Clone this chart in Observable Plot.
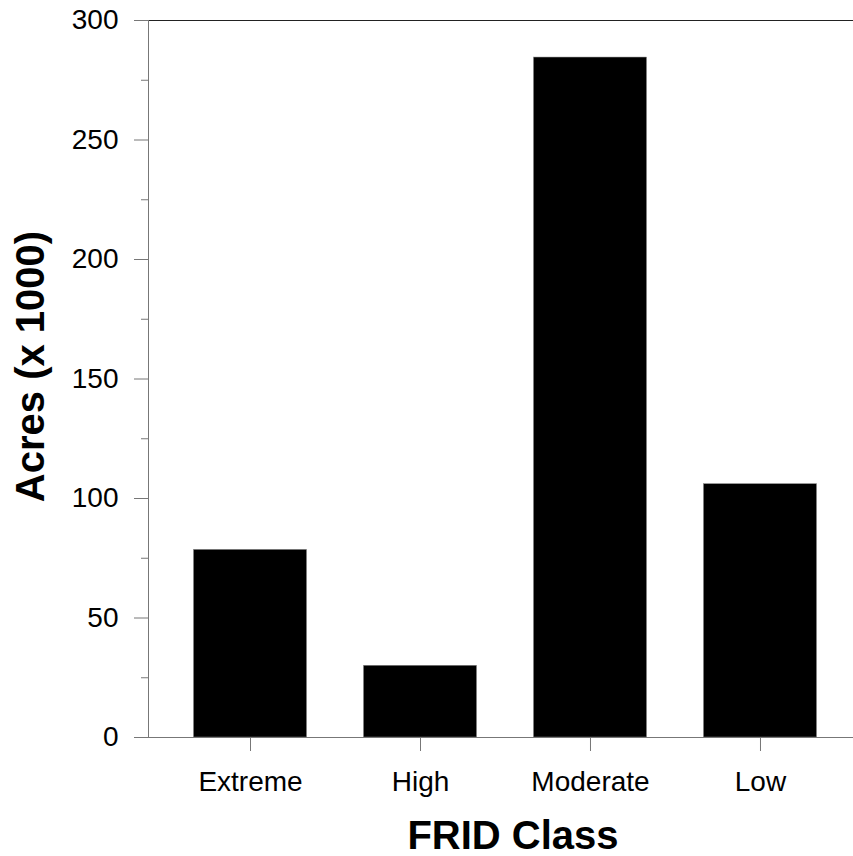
<!DOCTYPE html>
<html>
<head>
<meta charset="utf-8">
<script src="https://cdn.jsdelivr.net/npm/d3@7"></script>
<script src="https://cdn.jsdelivr.net/npm/@observablehq/plot@0.6"></script>
<style>
  html, body { margin: 0; padding: 0; background: #fff; }
  #chart svg { display: block; }
</style>
</head>
<body>
<div id="chart"></div>
<script>
const classes = ["Extreme", "High", "Moderate", "Low"];
const acres = [78.5, 30, 284.5, 106];
const yMajorTicks = [0, 50, 100, 150, 200, 250, 300];
const yMinorTicks = [25, 75, 125, 175, 225, 275];
const xLabel = "FRID Class";
const yLabel = "Acres (x 1000)";

const data = classes.map((c, i) => ({cls: c, acres: acres[i]}));

const font = "'Liberation Sans', Arial, Helvetica, sans-serif";

const chart = Plot.plot({
  width: 853,
  height: 856,
  marginLeft: 148,
  marginRight: 0,
  marginTop: 20,
  marginBottom: 119,
  style: {fontFamily: font, color: "black", background: "white", overflow: "visible"},
  x: {domain: classes, range: [148, 862], paddingInner: 0.335, paddingOuter: 0.2676, round: false},
  y: {domain: [0, 300], label: null},
  marks: [
    Plot.barY(data, {x: "cls", y: "acres", fill: "black", stroke: "#888", strokeWidth: 0.5}),
    Plot.ruleY([300], {stroke: "#222", strokeWidth: 1.2}),
    Plot.ruleY([0], {stroke: "#777"}),
    Plot.frame({anchor: "left", stroke: "#777"}),
    Plot.axisY(yMajorTicks, {tickSize: 14, tickPadding: 16, fontSize: 28, stroke: "#777", fill: "black", label: null}),
    Plot.axisY(yMinorTicks, {tickSize: 7, stroke: "#777", tickFormat: () => "", label: null}),
    Plot.axisX({tickSize: 14, tickPadding: 20, fontSize: 28, stroke: "#777", fill: "black", label: null}),
    Plot.text([yLabel], {frameAnchor: "left", dx: -105, dy: -12.5, rotate: -90, fontSize: 40, fontWeight: "bold", fill: "black", textAnchor: "middle", lineAnchor: "bottom"}),
    Plot.text([xLabel], {frameAnchor: "bottom", dx: 12, dy: 111, fontSize: 40, fontWeight: "bold", fill: "black", textAnchor: "middle", lineAnchor: "bottom"})
  ]
});

document.getElementById("chart").appendChild(chart);
</script>
</body>
</html>
